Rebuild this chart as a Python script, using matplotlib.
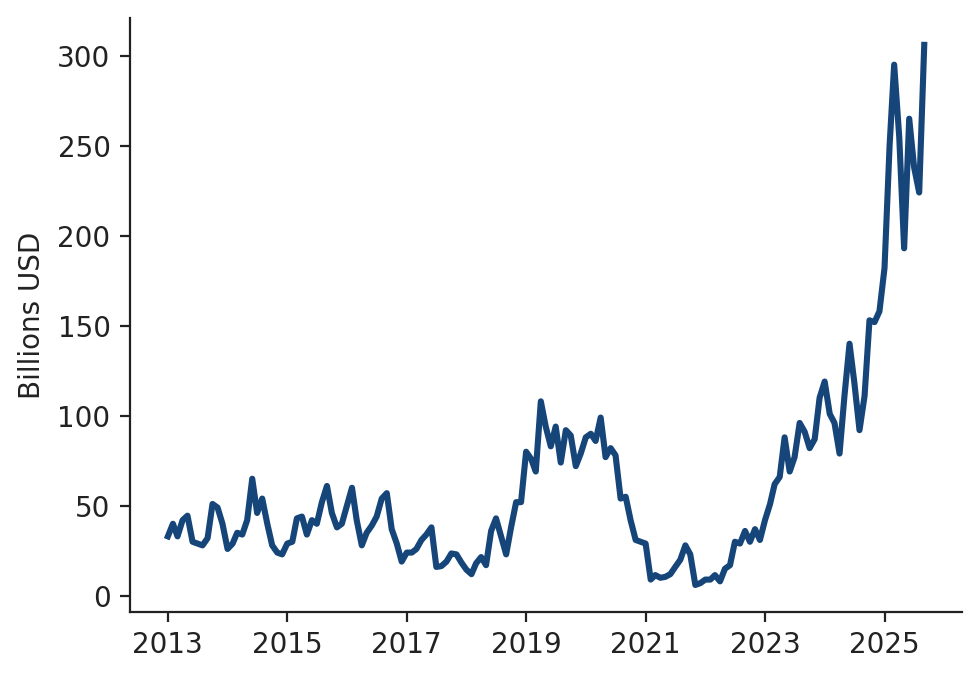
import matplotlib
matplotlib.use("Agg")
import matplotlib.pyplot as plt
import numpy as np
import pandas as pd

# monthly values, Jan 2013 .. Sep 2025 (billions USD)
values = [
    33, 40, 33, 42, 44.5, 30, 29, 28, 32, 51, 49, 40,
    26, 29, 35, 34, 42, 65, 46, 54, 40, 28, 24, 23,
    29, 30, 43, 44, 34, 42, 40, 52, 61, 46, 38, 40,
    50, 60, 42, 28, 35, 39, 44, 54, 57, 37, 29, 19,
    24, 24, 26, 31, 34, 38, 16, 16.5, 19, 23.5, 23, 18.5,
    14.5, 12, 18, 21.5, 17, 36, 43, 33, 23, 38, 52, 52,
    80, 76, 69, 108, 94, 83, 94, 74, 92, 89, 72, 79,
    88, 90, 86, 99, 77, 82, 78, 54, 55, 42, 31, 30,
    29, 9, 11.5, 10, 10.5, 12, 16, 20, 28, 23, 6, 7,
    9, 9, 11.5, 8, 15, 17, 30, 29, 36, 30, 37, 31,
    42, 51, 62, 66, 88, 69, 77, 96, 91, 82, 87, 110,
    119, 101, 96, 79, 111, 140, 118, 92, 111, 153, 152, 158,
    182, 250, 295, 255, 193, 265, 238, 224, 306,
]
dates = pd.date_range("2013-01-01", periods=len(values), freq="MS")
tick_years = [2013, 2015, 2017, 2019, 2021, 2023, 2025]

plt.rcParams["font.family"] = "DejaVu Sans"
plt.rcParams["font.size"] = 10

fig = plt.figure(figsize=(4.9, 3.395), dpi=200)
ax = fig.add_axes([0.1327, 0.0987, 0.849, 0.875])

ax.plot(dates, values, color="#16457a", linewidth=2.2)

ax.set_xticks([pd.Timestamp(f"{y}-01-01") for y in tick_years])
ax.set_xticklabels([str(y) for y in tick_years])
ax.set_yticks([0, 50, 100, 150, 200, 250, 300])
ax.set_ylabel("Billions USD", color="#222222")

ax.spines["top"].set_visible(False)
ax.spines["right"].set_visible(False)
for s in ("left", "bottom"):
    ax.spines[s].set_color("#222222")
ax.tick_params(colors="#222222")

fig.savefig("out.png", dpi=200)
